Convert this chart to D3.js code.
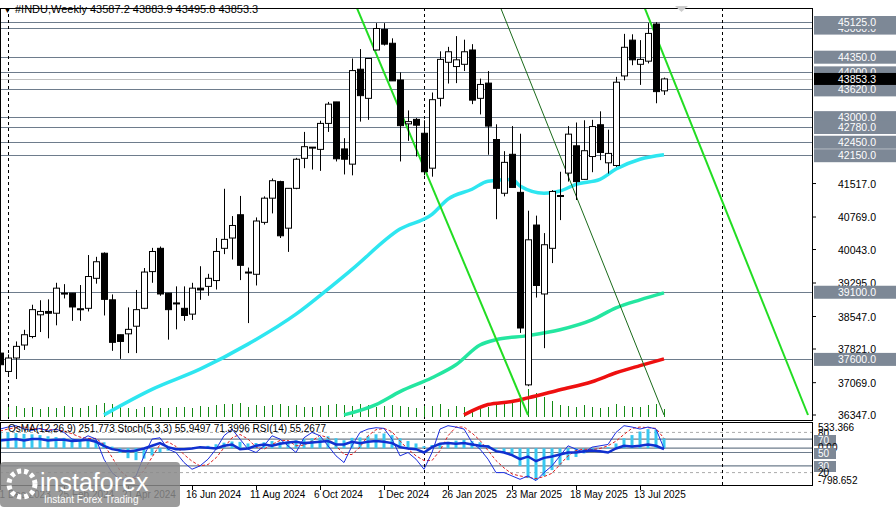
<!DOCTYPE html>
<html><head><meta charset="utf-8">
<script src="https://cdn.jsdelivr.net/npm/d3@7"></script>
<style>body{margin:0;background:#fff}svg{display:block;font-family:"Liberation Sans",Arial,sans-serif}</style>
</head><body><svg id="c" width="896" height="507"></svg>
<script>
const opens=[37730,37320,37620,37910,38100,38585,38660,38620,39050,39070,38720,38730,39400,39960,38920,38140,38160,38330,38730,39550,40070,39070,38850,38730,38600,39180,39220,39350,40070,40300,40820,39540,39490,40650,41190,41560,40520,41410,42080,42320,42280,42860,43340,42290,41950,44070,43420,44500,44960,44650,43830,42850,42950,42640,41860,43420,44225,44130,44180,44500,43420,43760,42500,41300,42170,41320,37020,40590,39050,40070,41250,41750,42360,41610,42120,42830,41980,41920,43920,44720,44180,44250,45080,43587];
const highs=[37810,37700,37990,38250,38810,38910,38930,39300,39270,39070,39250,39920,39880,39980,39040,38140,38750,39140,39630,40080,40110,39070,39220,39220,39300,39670,39500,40300,41400,40790,41240,39640,40760,41230,41630,41580,41410,42090,42670,42330,42920,43340,43340,42530,44310,44520,44320,45100,45100,44760,44000,43150,42980,42930,43550,44470,44570,44810,44730,44630,43860,44030,42840,42240,42800,42630,40910,40800,40410,41370,41780,42800,42880,42930,42940,43130,42720,43900,44860,44850,44720,45100,45120,43884];
const lows=[37300,37230,37150,37800,38060,38200,38060,38350,38950,38450,38450,38660,39280,38570,37780,37600,37730,37730,38710,39300,39010,38030,38260,38450,38470,38920,39010,39150,39940,39820,39360,38400,39240,40600,40850,40300,39990,41390,41860,41830,41800,42670,42010,41720,41700,42900,42940,44490,44600,43810,42010,42470,42120,41700,41670,43240,43750,43760,44030,43290,43060,42160,40720,41230,41430,38180,36990,38970,37840,39740,40700,41560,41150,41600,41770,42040,41740,41890,43820,44160,43720,44200,43310,43496];
const closes=[37470,37620,37880,38140,38700,38660,38620,39180,39070,38760,38700,39440,39770,38930,37970,37990,38260,38700,39540,39999,39050,38700,38840,38570,39180,39140,39400,40000,40270,40580,39690,39530,40680,41190,41580,40350,41410,42060,42340,42330,42860,43290,42070,42060,44040,43480,44310,44980,44630,43810,42810,42900,42820,41780,43390,44290,44460,44280,44460,43380,43730,42800,41410,41990,41430,38290,40260,39240,40150,41340,41240,42620,41560,42250,42790,42210,42190,43780,44560,44280,44290,44870,43570,43853];
const volumes=[9,10,11,9,10,8,10,9,11,10,9,11,12,14,13,10,9,8,10,11,9,9,10,10,9,11,10,12,13,13,14,10,12,11,12,13,11,12,10,10,11,12,13,12,11,13,12,10,11,12,11,10,9,11,11,13,8,11,10,8,9,10,14,13,17,22,28,24,20,16,12,11,10,12,10,9,10,13,11,10,10,12,13,8];
const maFastIdx=[13,19,25,31,37,41,44,50,54,56,59,61,64,65,68,70,72,75,77,80,83];
const maFast=[36350,36920,37370,37930,38600,39160,39600,40500,40830,41170,41390,41570,41610,41460,41300,41350,41500,41610,41840,42060,42160];
const maMidIdx=[43,47,50,54,57,60,62,66,70,74,77,80,83];
const maMid=[36350,36580,36870,37180,37470,37910,38030,38120,38250,38470,38740,38920,39075];
const maSlowIdx=[58,61,64,66,70,74,77,80,83];
const maSlow=[36350,36580,36650,36730,36910,37090,37290,37450,37600];
const trendLines=[[[44,45700],[66,36347]],[[62,45700],[83,36347]],[[80,45700],[101,36347]]];
const levels=[45000,45125,44350,44000,43620,43000,42780,42450,42150,39100,37600];
const plainTicks=[41517,40769,40043,39295,38547,37821,37069,36347];
const osma=[420,400,380,360,350,330,300,280,260,240,220,210,200,150,40,-120,-250,-300,-260,-180,-100,-60,-40,-30,0,30,60,100,140,170,160,120,130,150,180,160,170,200,230,250,270,300,250,200,260,270,300,350,370,330,250,180,120,50,80,120,160,190,210,180,150,80,-30,-100,-160,-450,-750,-800,-700,-550,-420,-300,-220,-130,-50,0,30,120,250,330,420,480,460,251];
const stochMain=[85,88,90,85,83,86,82,85,80,70,68,75,70,40,20,10,8,15,45,70,72,55,50,35,25,30,40,55,75,85,70,55,50,60,75,70,60,50,72,80,75,60,45,35,60,80,85,87,86,70,45,50,40,25,50,85,90,88,85,65,55,40,20,20,15,10,15,8,20,30,45,60,55,50,58,60,62,80,90,88,85,88,85,56];
const stochSig=[82,85,87,88,86,85,84,84,82,78,73,71,71,62,43,23,13,11,23,43,62,66,59,47,37,30,32,42,57,72,77,70,58,55,62,68,68,60,61,67,76,72,60,47,47,58,75,84,86,81,67,55,45,38,38,53,75,88,88,79,68,53,38,27,18,15,13,11,14,19,32,45,53,55,54,56,60,67,77,86,88,87,86,71];
const rsi=[68,69,70,68,70,70,68,69,69,67,68,69,66,60,55,53,52,53,56,60,64,58,55,55,56,58,57,56,60,62,55,56,60,62,60,63,65,66,64,65,66,67,62,62,66,64,66,67,66,64,58,56,55,50,58,63,64,63,64,62,60,59,52,50,46,40,44,37,42,44,47,50,50,52,53,52,50,56,60,59,60,62,60,55];
const firstWeek=new Date(2023,11,31);
const dateLabelIdx=[0,8,16,24,32,40,48,56,64,72,80];

const svg=d3.select("#c");
const W=812;
const x=d3.scaleLinear().domain([0,1]).range([0,8]);
const y=d3.scaleLinear().domain([36347,45125]).range([415,22]);
const main=svg.append("g");
svg.append("clipPath").attr("id","cl").append("rect").attr("x",0).attr("y",8).attr("width",W).attr("height",412);
const g=main.append("g").attr("clip-path","url(#cl)");
const fmt=d3.format(".1f");
levels.forEach(v=>g.append("line").attr("x1",0).attr("x2",W).attr("y1",Math.round(y(v))+.5).attr("y2",Math.round(y(v))+.5).attr("stroke","#6e7c8c").attr("stroke-width",1.2));
g.append("line").attr("x1",0).attr("x2",W).attr("y1",Math.round(y(closes[83]))+.5).attr("y2",Math.round(y(closes[83]))+.5).attr("stroke","#c0c0c0");
[1,53].forEach(i=>g.append("line").attr("x1",x(i)+.5).attr("x2",x(i)+.5).attr("y1",8).attr("y2",420).attr("stroke","#000").attr("stroke-dasharray","3,3"));
g.append("line").attr("x1",722.5).attr("x2",722.5).attr("y1",8).attr("y2",420).attr("stroke","#000").attr("stroke-dasharray","3,3");
g.selectAll(".v").data(volumes).join("line").attr("x1",(d,i)=>x(i)+.5).attr("x2",(d,i)=>x(i)+.5).attr("y1",417).attr("y2",d=>417-d).attr("stroke","#138a13");
const line=d3.line().curve(d3.curveMonotoneX);
function ma(idx,vals,col,w){g.append("path").attr("d",line(idx.map((k,j)=>[x(k),y(vals[j])]))).attr("fill","none").attr("stroke",col).attr("stroke-width",w);}
ma(maFastIdx,maFast,"#2ee6f0",3.5);ma(maMidIdx,maMid,"#24e6a0",3.5);ma(maSlowIdx,maSlow,"#ee1010",3.5);
trendLines.forEach((t,k)=>{g.append("line").attr("x1",x(t[0][0])).attr("y1",y(t[0][1])).attr("x2",x(t[1][0])).attr("y2",y(t[1][1])).attr("stroke",k==1?"#1a6a1a":"#22dd22").attr("stroke-width",k==1?1:2);});
closes.forEach((c,i)=>{const o=opens[i],up=c>=o,cx=x(i)+.5;
 g.append("line").attr("x1",cx).attr("x2",cx).attr("y1",y(highs[i])).attr("y2",y(lows[i])).attr("stroke","#000");
 const t=y(Math.max(o,c)),b=y(Math.min(o,c));
 g.append("rect").attr("x",cx-3).attr("y",t).attr("width",6).attr("height",Math.max(1,b-t)).attr("fill",up?"#fff":"#000").attr("stroke","#000");});
main.append("rect").attr("x",.5).attr("y",8.5).attr("width",W).attr("height",412).attr("fill","none").attr("stroke","#000");
svg.append("path").attr("d","M675,6 L688,6 L681.5,12 Z").attr("fill","#ccc");
svg.append("text").attr("x",4).attr("y",13).attr("font-size",7).text("▼");
svg.append("text").attr("x",15).attr("y",13).attr("font-size",11).text("#INDU,Weekly  43587.2 43883.9 43495.8 43853.3");
plainTicks.forEach(v=>{svg.append("line").attr("x1",W).attr("x2",W+4).attr("y1",y(v)).attr("y2",y(v)).attr("stroke","#000");
 svg.append("text").attr("x",W+45).attr("y",y(v)+4).attr("font-size",10.5).attr("text-anchor","middle").text(fmt(v));});
levels.forEach(v=>{svg.append("rect").attr("x",W+2).attr("y",y(v)-6).attr("width",82).attr("height",13).attr("fill","#7d8896");
 svg.append("text").attr("x",W+45).attr("y",y(v)+4).attr("font-size",10.5).attr("fill","#fff").attr("text-anchor","middle").text(fmt(v));});
svg.append("rect").attr("x",W+2).attr("y",y(closes[83])-6).attr("width",82).attr("height",12).attr("fill","#000");
svg.append("text").attr("x",W+45).attr("y",y(closes[83])+4).attr("font-size",10.5).attr("fill","#fff").attr("text-anchor","middle").text("43853.3");
const iy=d3.scaleLinear().domain([0,100]).range([486,419]);
const my=d3.scaleLinear().domain([-798.652,533.366]).range([480,427]);
const ip=svg.append("g");
ip.append("clipPath").attr("id","cl2").append("rect").attr("x",0).attr("y",422).attr("width",W).attr("height",63);
const ig=ip.append("g").attr("clip-path","url(#cl2)");
[80,20].forEach(v=>ig.append("line").attr("x1",0).attr("x2",W).attr("y1",iy(v)).attr("y2",iy(v)).attr("stroke","#aaa").attr("stroke-dasharray","3,3"));
[70,50,30].forEach(v=>ig.append("line").attr("x1",0).attr("x2",W).attr("y1",iy(v)).attr("y2",iy(v)).attr("stroke","#6e7c8c").attr("stroke-width",1.2));
ig.append("line").attr("x1",0).attr("x2",W).attr("y1",my(0)).attr("y2",my(0)).attr("stroke","#6e7c8c").attr("stroke-width",1.2);
ig.append("line").attr("x1",x(53)+.5).attr("x2",x(53)+.5).attr("y1",422).attr("y2",485).attr("stroke","#000").attr("stroke-dasharray","3,3");
ig.append("line").attr("x1",722.5).attr("x2",722.5).attr("y1",422).attr("y2",485).attr("stroke","#000").attr("stroke-dasharray","3,3");
osma.forEach((v,i)=>ig.append("rect").attr("x",x(i)-1.5).attr("y",Math.min(my(v),my(0))).attr("width",3).attr("height",Math.abs(my(v)-my(0))).attr("fill","#38c8f0"));
const l2=d3.line();
ig.append("path").attr("d",l2(stochSig.map((v,i)=>[x(i),iy(v)]))).attr("fill","none").attr("stroke","#e02020").attr("stroke-dasharray","3,2");
ig.append("path").attr("d",l2(stochMain.map((v,i)=>[x(i),iy(v)]))).attr("fill","none").attr("stroke","#1c2ee0");
ig.append("path").attr("d",l2(rsi.map((v,i)=>[x(i),iy(v)]))).attr("fill","none").attr("stroke","#1030d0").attr("stroke-width",2.5);
ip.append("rect").attr("x",.5).attr("y",422.5).attr("width",W).attr("height",63).attr("fill","none").attr("stroke","#000");
ip.append("text").attr("x",8).attr("y",432).attr("font-size",10).text("OsMA(12,26,9) 251.773  Stoch(5,3,3) 55.9497 71.3996  RSI(14) 55.2677");
[["533.366",427],["80",433],["70",440],["0.00",447],["50",453],["30",466],["20",472],["-798.652",480]].forEach(([t,yy])=>{
 const hl=(t=="70"||t=="50"||t=="30");
 if(hl) ip.append("rect").attr("x",W+2).attr("y",yy-5).attr("width",22).attr("height",11).attr("fill","#7d8896");
 ip.append("text").attr("x",W+6).attr("y",yy+4).attr("font-size",10).attr("fill",hl?"#fff":"#000").text(t);});
dateLabelIdx.forEach(i=>{const d=d3.timeWeek.offset(firstWeek,i);
 svg.append("line").attr("x1",x(i)+.5).attr("x2",x(i)+.5).attr("y1",486).attr("y2",490).attr("stroke","#000");
 svg.append("text").attr("x",x(i)-6).attr("y",498).attr("font-size",10).text(d3.timeFormat("%-d %b %Y")(d));});
const wm=svg.append("g");
wm.append("rect").attr("x",0).attr("y",462).attr("width",180).attr("height",45).attr("rx",4).attr("fill","#8a8a8a").attr("opacity",.85);
wm.append("circle").attr("cx",22).attr("cy",484).attr("r",13).attr("fill","none").attr("stroke","#fff").attr("stroke-width",5).attr("stroke-dasharray","4,3");
wm.append("text").attr("x",40).attr("y",491).attr("font-size",25).attr("fill","#fff").text("instaforex");
wm.append("text").attr("x",44).attr("y",503).attr("font-size",10).attr("fill","#fff").text("Instant Forex Trading");
</script></body></html>
